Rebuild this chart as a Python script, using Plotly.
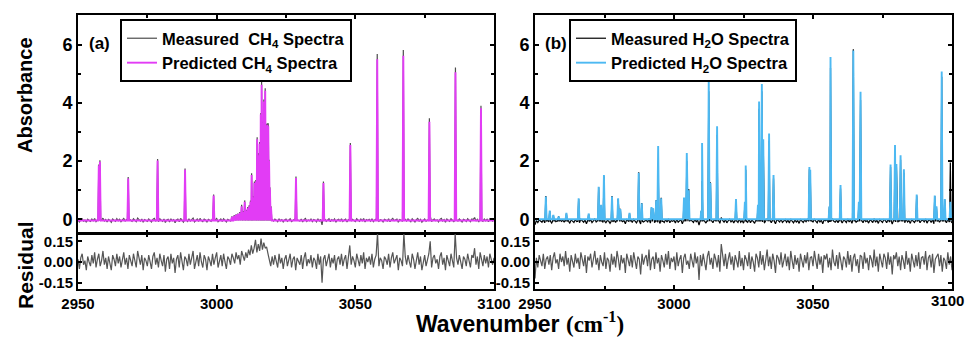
import numpy as np
import plotly.graph_objects as go

# ---------------- data ----------------
# Panel (a): CH4 line positions (cm-1) and absorbance heights
ch4_peak_wn = [2957.5, 2957.9, 2968.1, 2978.7, 2988.6, 2998.9,
               3005.5, 3006.3, 3007.0, 3007.6, 3008.3, 3009.0, 3009.6, 3010.1, 3010.7,
               3011.2, 3011.7, 3012.2, 3012.6, 3013.1, 3013.6, 3014.1, 3014.6, 3015.0,
               3015.5, 3015.9, 3016.2, 3016.6, 3017.0, 3017.5, 3017.9, 3018.3, 3018.6,
               3018.9, 3019.2, 3019.6,
               3028.6, 3038.5, 3048.2, 3057.9, 3067.3, 3076.7, 3086.1, 3095.3]
ch4_pred_h = [1.85, 1.98, 1.40, 2.02, 1.70, 0.82,
              0.08, 0.12, 0.15, 0.18, 0.22, 0.45, 0.25, 0.60, 0.30,
              0.38, 0.45, 0.60, 1.52, 0.75, 1.25, 1.30, 2.75, 2.20,
              2.60, 3.60, 4.62, 3.30, 4.05, 4.42, 3.20, 3.25, 3.20,
              2.00, 1.05, 0.40,
              1.42, 1.25, 2.55, 5.50, 5.62, 3.35, 5.05, 3.82]
ch4_meas_h = [1.88, 2.03, 1.45, 2.07, 1.75, 0.85,
              0.10, 0.14, 0.17, 0.20, 0.25, 0.50, 0.28, 0.65, 0.33,
              0.42, 0.48, 0.65, 1.58, 0.80, 1.30, 1.35, 2.82, 2.28,
              2.66, 3.65, 4.72, 3.35, 4.12, 4.50, 3.28, 3.30, 3.30,
              2.05, 1.10, 0.45,
              1.47, 1.30, 2.62, 5.68, 5.82, 3.47, 5.22, 3.90]

# Panel (b): H2O line positions (cm-1) and absorbance heights
h2o_peak_wn = [2953.9, 2955.3, 2956.6, 2958.5, 2961.3, 2965.7, 2969.3, 2972.9, 2973.8,
               2974.8, 2977.7, 2979.9, 2980.7, 2984.0, 2987.3, 2988.4, 2991.9, 2992.5,
               2993.6, 2994.3, 2995.4, 3003.6, 3004.0, 3004.6, 3005.3, 3009.8, 3010.1,
               3012.5, 3013.1, 3015.5, 3022.3, 3025.5, 3025.8, 3030.2, 3030.6, 3031.6,
               3032.1, 3034.2, 3035.8, 3048.7, 3049.0, 3055.9, 3056.3, 3059.9, 3064.5,
               3066.5, 3067.1, 3077.9, 3079.5, 3080.0, 3081.5, 3082.7, 3087.3, 3093.8,
               3094.4, 3096.3, 3097.4, 3099.4]
h2o_pred_h = [0.78, 0.30, 0.15, 0.10, 0.22, 0.72, 0.20, 1.12, 0.50,
              1.52, 0.78, 0.72, 0.35, 0.22, 1.60, 0.55, 0.42, 0.38,
              0.65, 2.52, 0.72, 0.75, 0.75, 2.28, 1.00, 0.30, 2.62,
              4.85, 1.25, 3.20, 0.70, 0.60, 1.85, 0.50, 4.05, 4.65,
              2.75, 2.95, 1.52, 1.80, 1.70, 0.45, 5.58, 1.18, 5.80,
              0.60, 4.38, 1.88, 2.55, 1.90, 2.20, 1.72, 0.85, 0.82,
              0.45, 5.08, 0.70, 0.60]
h2o_meas_h = [0.80, 0.28, 0.14, 0.10, 0.20, 0.70, 0.18, 1.10, 0.48,
              1.48, 0.80, 0.70, 0.36, 0.20, 1.62, 0.56, 0.40, 0.36,
              0.66, 1.90, 0.74, 0.72, 0.72, 2.00, 1.04, 0.28, 1.32,
              4.40, 1.27, 2.90, 0.68, 0.58, 1.70, 0.48, 3.80, 4.40,
              2.60, 2.70, 1.40, 1.72, 1.68, 0.42, 5.20, 1.06, 5.84,
              0.58, 4.10, 1.80, 2.40, 1.85, 2.05, 1.60, 0.82, 0.80,
              0.42, 4.90, 0.68, 1.95]

# Residuals sampled every 0.5 cm-1 from 2950 to 3100
res_wn = np.round(np.arange(2950.0, 3100.001, 0.5), 2)
res_ch4 = [
    0.02, -0.05, 0.03, 0.06, -0.02, 0.01, -0.06, 0.04, 0.00, -0.03,
    0.05, -0.01, 0.07, -0.04, 0.02, 0.06, -0.03, 0.01, 0.08, -0.02,
    0.03, -0.05, 0.04, 0.00, -0.06, 0.05, 0.02, -0.03, 0.06, -0.01,
    0.04, -0.04, 0.02, 0.07, -0.02, 0.03, -0.05, 0.05, 0.01, -0.03,
    0.06, 0.00, -0.04, 0.08, 0.02, -0.02, 0.05, -0.06, 0.03, 0.01,
    -0.03, 0.05, 0.00, -0.05, 0.04, 0.07, -0.02, 0.03, -0.04, 0.06,
    0.01, -0.03, 0.05, -0.07, 0.02, 0.04, -0.05, 0.06, -0.01, 0.03,
    -0.08, 0.02, 0.05, -0.04, 0.07, 0.00, -0.06, 0.04, 0.02, -0.03,
    0.06, -0.02, 0.03, 0.08, -0.05, 0.01, 0.05, -0.03, 0.07, 0.00,
    -0.04, 0.05, 0.02, -0.06, 0.04, 0.01, -0.03, 0.06, -0.02, 0.03,
    0.07, -0.04, 0.02, 0.05, -0.03, 0.06, 0.00, -0.05, 0.04, 0.02,
    -0.02, 0.06, 0.03, -0.01, 0.07, 0.02, 0.05, -0.02, 0.08, 0.04,
    0.01, 0.07, 0.03, 0.09, 0.05, 0.12, 0.06, 0.10, 0.16, 0.07,
    0.13, 0.08, 0.17, 0.09, 0.14, 0.10, 0.11, 0.06, 0.02, -0.03,
    0.04, -0.02, 0.05, 0.01, -0.04, 0.06, -0.01, 0.03, -0.05, 0.02,
    0.05, -0.03, 0.01, 0.06, -0.04, 0.02, 0.04, -0.06, 0.03, 0.00,
    -0.02, 0.05, -0.05, 0.03, 0.07, -0.03, 0.02, -0.01, 0.05, -0.04,
    0.03, 0.01, -0.05, 0.06, -0.02, 0.04, -0.15, 0.02, 0.05, -0.03,
    0.01, 0.06, -0.04, 0.03, -0.01, 0.05, -0.06, 0.02, 0.04, -0.02,
    0.06, -0.03, 0.02, 0.05, -0.05, 0.03, 0.12, -0.02, 0.04, 0.01,
    -0.04, 0.06, 0.02, -0.03, 0.05, -0.01, 0.07, -0.05, 0.03, 0.00,
    0.04, -0.02, 0.06, -0.04, 0.02, 0.05, 0.21, -0.03, 0.03, 0.01,
    -0.05, 0.04, 0.02, -0.02, 0.06, -0.04, 0.03, 0.07, -0.01, 0.02,
    0.05, -0.06, 0.03, 0.01, -0.03, 0.21, 0.04, -0.02, 0.05, 0.00,
    -0.04, 0.06, 0.02, -0.05, 0.03, 0.07, -0.02, 0.04, -0.06, 0.01,
    0.05, -0.03, 0.02, 0.06, 0.15, -0.04, 0.03, 0.05, -0.01, 0.02,
    -0.05, 0.04, 0.07, -0.02, 0.03, -0.06, 0.05, 0.01, -0.03, 0.06,
    0.02, -0.04, 0.21, 0.03, -0.02, 0.05, 0.00, -0.05, 0.04, 0.02,
    -0.03, 0.06, 0.01, -0.04, 0.05, 0.03, 0.10, -0.02, 0.04, -0.05,
    0.07, 0.02, -0.03, 0.05, -0.01, 0.04, -0.04, 0.06, 0.02, -0.02,
    0.03]
res_h2o = [
    -0.12, 0.03, -0.04, 0.05, 0.01, -0.03, 0.06, -0.05, 0.02, 0.04,
    -0.02, 0.05, -0.06, 0.03, 0.07, -0.01, 0.02, -0.05, 0.06, 0.00,
    0.04, -0.03, 0.08, -0.02, 0.03, -0.07, 0.05, 0.01, -0.04, 0.06,
    -0.01, 0.03, -0.05, 0.07, 0.02, -0.03, 0.05, -0.08, 0.04, 0.01,
    0.06, -0.04, 0.02, 0.08, -0.02, 0.03, -0.06, 0.05, 0.00, -0.03,
    0.07, -0.05, 0.03, 0.01, -0.07, 0.06, -0.02, 0.04, -0.04, 0.08,
    0.02, -0.06, 0.05, -0.01, 0.03, -0.08, 0.06, 0.01, -0.03, 0.05,
    -0.04, 0.07, 0.00, -0.05, 0.04, 0.02, -0.09, 0.06, -0.02, 0.03,
    0.05, -0.03, 0.09, -0.06, 0.02, 0.04, -0.05, 0.07, -0.01, 0.03,
    -0.07, 0.05, 0.01, -0.04, 0.06, -0.02, 0.08, -0.05, 0.03, 0.00,
    0.04, -0.06, 0.07, -0.03, 0.02, 0.05, -0.08, 0.03, 0.06, -0.02,
    0.01, -0.05, 0.06, 0.02, -0.04, 0.07, -0.01, 0.04, -0.13, 0.05,
    -0.03, 0.06, 0.01, -0.06, 0.04, 0.08, -0.02, 0.03, -0.05, 0.06,
    0.02, -0.04, 0.05, -0.07, 0.13, 0.03, -0.03, 0.06, -0.05, 0.02,
    0.07, -0.02, 0.04, -0.06, 0.05, 0.01, -0.04, 0.08, -0.03, 0.03,
    -0.06, 0.05, 0.02, -0.03, 0.07, -0.05, 0.04, 0.00, -0.07, 0.06,
    0.03, -0.04, 0.08, -0.02, 0.05, -0.06, 0.02, 0.09, -0.03, 0.04,
    -0.05, 0.06, 0.01, -0.08, 0.05, 0.03, -0.02, 0.07, -0.04, 0.02,
    0.06, -0.03, 0.04, -0.06, 0.08, 0.01, -0.05, 0.05, -0.02, 0.03,
    -0.07, 0.06, 0.02, -0.04, 0.05, -0.01, 0.07, -0.06, 0.03, 0.04,
    -0.03, 0.08, 0.01, -0.05, 0.06, -0.02, 0.04, -0.08, 0.05, 0.02,
    0.06, -0.04, 0.03, -0.06, 0.09, 0.00, -0.03, 0.05, -0.05, 0.07,
    0.01, -0.06, 0.04, 0.02, -0.04, 0.08, -0.02, 0.05, -0.07, 0.03,
    0.06, -0.03, 0.02, -0.08, 0.05, 0.04, -0.05, 0.07, -0.01, 0.03,
    -0.06, 0.05, 0.02, -0.04, 0.09, -0.03, 0.04, -0.07, 0.06, 0.01,
    -0.04, 0.06, 0.03, -0.05, 0.07, -0.02, 0.04, -0.09, 0.05, 0.02,
    0.07, -0.03, 0.04, -0.06, 0.05, 0.01, -0.05, 0.08, -0.02, 0.03,
    -0.07, 0.06, 0.02, -0.04, 0.05, -0.03, 0.07, -0.05, 0.03, 0.04,
    -0.02, 0.08, -0.06, 0.03, 0.05, -0.04, 0.06, -0.08, 0.02, 0.04,
    0.06, -0.03, 0.05, -0.07, 0.03, 0.01, -0.05, 0.07, -0.02, 0.04,
    -0.06]

# baselines (absorbance)
ch4_base = -0.04
h2o_pred_base = 0.0
h2o_meas_base = -0.07

x_ticks = [2950, 3000, 3050, 3100]
x_tick_text = ["2950", "3000", "3050", "3100"]
abs_ticks = [0, 2, 4, 6]
res_ticks = [-0.15, 0.0, 0.15]
res_tick_text = ["-0.15", "0.00", "0.15"]

HALF_W = 0.28  # half width of a line in cm-1


def line_profile(centers, heights, base, noise=None, noise_base=None):
    pts = []
    if noise is not None:
        for x, r in zip(res_wn, noise):
            if min(abs(x - c) for c in centers) > HALF_W:
                pts.append((float(x), noise_base + r))
    else:
        pts += [(2950.0, base), (3100.0, base)]
    for c, h in zip(centers, heights):
        pts += [(c - HALF_W, base), (c, h), (c + HALF_W, base)]
    pts.sort(key=lambda p: p[0])
    return [p[0] for p in pts], [p[1] for p in pts]


W, H = 967, 353
def px(x):
    return x / W
def py(y):
    return 1 - y / H

FONT = "Liberation Sans, Arial, sans-serif"
MAGENTA = "#E23CF5"
BLUE = "#4DB9F2"
GRAY = "#4d4d4d"

fig = go.Figure()

# ----- panel (a) -----
mx, my = line_profile(ch4_peak_wn, ch4_meas_h, ch4_base, res_ch4, ch4_base)
fig.add_trace(go.Scatter(x=mx, y=my, mode="lines", line=dict(color=GRAY, width=1.2),
                         name="Measured  CH<sub>4</sub> Spectra", xaxis="x", yaxis="y",
                         legend="legend"))
pxs, pys = line_profile(ch4_peak_wn, ch4_pred_h, ch4_base)
fig.add_trace(go.Scatter(x=pxs, y=pys, mode="lines", line=dict(color=MAGENTA, width=1.9),
                         name="Predicted CH<sub>4</sub> Spectra", xaxis="x", yaxis="y",
                         legend="legend"))
fig.add_trace(go.Scatter(x=res_wn, y=res_ch4, mode="lines", line=dict(color="#555555", width=1.2),
                         showlegend=False, xaxis="x2", yaxis="y2"))

# ----- panel (b) -----
mx, my = line_profile(h2o_peak_wn, h2o_meas_h, h2o_meas_base, res_h2o, h2o_meas_base)
fig.add_trace(go.Scatter(x=mx, y=my, mode="lines", line=dict(color="black", width=1.2),
                         name="Measured H<sub>2</sub>O Spectra", xaxis="x3", yaxis="y3",
                         legend="legend2"))
pxs, pys = line_profile(h2o_peak_wn, h2o_pred_h, h2o_pred_base)
fig.add_trace(go.Scatter(x=pxs, y=pys, mode="lines", line=dict(color=BLUE, width=1.9),
                         name="Predicted H<sub>2</sub>O Spectra", xaxis="x3", yaxis="y3",
                         legend="legend2"))
fig.add_trace(go.Scatter(x=res_wn, y=res_h2o, mode="lines", line=dict(color="#555555", width=1.2),
                         showlegend=False, xaxis="x4", yaxis="y4"))

common = dict(showline=True, linecolor="black", linewidth=2, mirror="ticks",
              ticks="inside", ticklen=4, tickwidth=1.5, tickcolor="black",
              showgrid=False, zeroline=False, automargin=False,
              ticklabeloverflow="allow")
tick_big = dict(family=FONT, size=18, color="black", weight="bold")
tick_small = dict(family=FONT, size=15, color="black", weight="bold")

xa_dom = [px(78), px(494)]
xb_dom = [px(535), px(952)]
top_dom = [py(233), py(15)]
res_dom = [py(289), py(234)]

def xaxis(domain, anchor, labels, ticktext):
    return dict(domain=domain, anchor=anchor, range=[2950, 3100], tickvals=x_ticks,
                ticktext=ticktext, showticklabels=labels, tickfont=tick_small,
                minor=dict(ticks="inside", ticklen=3, tickcolor="black", dtick=25, tick0=2950),
                **common)

def yaxis_top(anchor):
    return dict(domain=top_dom, anchor=anchor, range=[-0.47, 7.02], tickvals=abs_ticks,
                tickfont=tick_big,
                minor=dict(ticks="inside", ticklen=3, tickcolor="black", dtick=1, tick0=0),
                **common)

def yaxis_res(anchor):
    return dict(domain=res_dom, anchor=anchor, range=[-0.196, 0.203], tickvals=res_ticks,
                ticktext=res_tick_text, tickfont=tick_small, **common)

legend_common = dict(bgcolor="white", bordercolor="black", borderwidth=2,
                     font=dict(family=FONT, size=16.5, color="black", weight="bold"),
                     xanchor="left", yanchor="top", tracegroupgap=0, itemwidth=30)

# the last tick label of panel (b) sits at the window edge: draw it right-aligned so it stays whole
b_tick_text = x_tick_text[:-1] + [""]

fig.update_layout(
    width=W, height=H, autosize=False,
    margin=dict(l=0, r=0, t=0, b=0),
    paper_bgcolor="white", plot_bgcolor="white",
    xaxis=xaxis(xa_dom, "y", False, x_tick_text),
    yaxis=yaxis_top("x"),
    xaxis2=xaxis(xa_dom, "y2", True, x_tick_text),
    yaxis2=yaxis_res("x2"),
    xaxis3=xaxis(xb_dom, "y3", False, x_tick_text),
    yaxis3=yaxis_top("x3"),
    xaxis4=xaxis(xb_dom, "y4", True, b_tick_text),
    yaxis4=yaxis_res("x4"),
    legend=dict(x=px(120), y=py(19), **legend_common),
    legend2=dict(x=px(569), y=py(19), **legend_common),
    annotations=[
        dict(text=x_tick_text[-1], x=px(966), y=py(300), xref="paper", yref="paper",
             showarrow=False, xanchor="right", yanchor="middle", font=tick_small),
        dict(text="(a)", x=px(87), y=py(44), xref="paper", yref="paper", showarrow=False,
             xanchor="left", yanchor="middle",
             font=dict(family=FONT, size=17, color="black", weight="bold")),
        dict(text="(b)", x=px(543), y=py(44), xref="paper", yref="paper", showarrow=False,
             xanchor="left", yanchor="middle",
             font=dict(family=FONT, size=17, color="black", weight="bold")),
        dict(text="Absorbance", x=px(25), y=py(95), xref="paper", yref="paper",
             showarrow=False, textangle=-90, xanchor="center", yanchor="middle",
             font=dict(family=FONT, size=20, color="black", weight="bold")),
        dict(text="Residual", x=px(25), y=py(265), xref="paper", yref="paper",
             showarrow=False, textangle=-90, xanchor="center", yanchor="middle",
             font=dict(family=FONT, size=21, color="black", weight="bold")),
        dict(text='Wavenumber <span style="font-family:Liberation Serif, Times New Roman, serif">(cm<sup>-1</sup>)</span>',
             x=px(520), y=py(322), xref="paper", yref="paper", showarrow=False,
             xanchor="center", yanchor="middle",
             font=dict(family=FONT, size=23, color="black", weight="bold")),
    ],
)

# remove the default 8px page margin so the 967x353 figure fills the window exactly
fig.write_html("out.html", config={"displayModeBar": False},
               post_script="document.body.style.margin='0px';")
